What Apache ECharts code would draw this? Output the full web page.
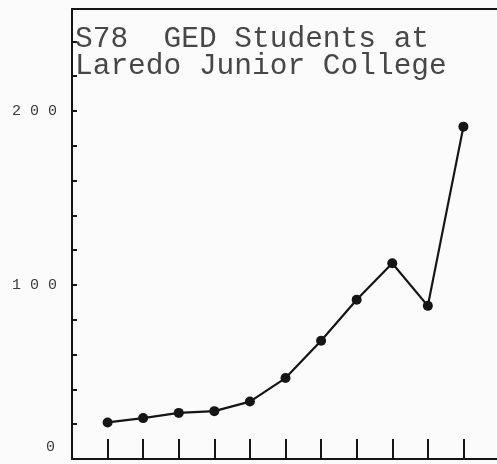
<!DOCTYPE html>
<html>
<head>
<meta charset="utf-8">
<script src="https://cdn.jsdelivr.net/npm/echarts@6/dist/echarts.min.js"></script>
<style>
html,body{margin:0;padding:0;background:#fbfbfb;overflow:hidden;}
#chart{width:505px;height:464px;}
</style>
</head>
<body>
<div id="chart"></div>
<script>
// Data
const titleText = 'S78  GED Students at\nLaredo Junior College';
const periods = ['1','2','3','4','5','6','7','8','9','10','11'];
const students = [21, 23.5, 26.5, 27.5, 33, 46.5, 68, 91.5, 112.5, 88, 191];
const yTickLabels = {0: '0', 100: '1 0 0', 200: '2 0 0'};

const chart = echarts.init(document.getElementById('chart'));
const ink = '#151515';
chart.setOption({
  backgroundColor: '#fbfbfb',
  animation: false,
  title: {
    text: titleText,
    left: 75,
    top: 26,
    padding: 0,
    textStyle: {
      fontFamily: 'Liberation Mono',
      fontSize: 29.5,
      fontWeight: 'normal',
      lineHeight: 27,
      color: '#474747'
    }
  },
  grid: {left: 72, right: 6, top: 9, bottom: 5},
  xAxis: [{
    type: 'value',
    min: 0,
    max: periods.length + 1,
    interval: 1,
    axisLine: {show: true, onZero: false, lineStyle: {color: ink, width: 2}},
    axisTick: {show: true, inside: true, length: 20, lineStyle: {color: ink, width: 2}},
    axisLabel: {show: false},
    splitLine: {show: false}
  }, {
    type: 'value',
    position: 'top',
    min: 0,
    max: periods.length + 1,
    axisLine: {show: true, onZero: false, lineStyle: {color: ink, width: 2}},
    axisTick: {show: false},
    axisLabel: {show: false},
    splitLine: {show: false}
  }],
  yAxis: {
    type: 'value',
    min: 0,
    max: 258.6,
    interval: 20,
    axisLine: {show: true, onZero: false, lineStyle: {color: ink, width: 2}},
    axisTick: {show: true, inside: true, length: 5, lineStyle: {color: ink, width: 2}},
    splitLine: {show: false},
    axisLabel: {
      margin: 15,
      fontFamily: 'Liberation Mono',
      fontSize: 15,
      color: '#3a3a3a',
      formatter: function (v) {
        if (v === 0) return '{z|0}';
        return yTickLabels[v] !== undefined ? yTickLabels[v] : '';
      },
      rich: {
        z: {fontFamily: 'Liberation Mono', fontSize: 15, color: '#3a3a3a', padding: [0, 2, 24, 0]}
      }
    }
  },
  series: [{
    type: 'line',
    xAxisIndex: 0,
    data: students.map((v, i) => [i + 1, v]),
    symbol: 'circle',
    symbolSize: 10,
    lineStyle: {color: ink, width: 2.2},
    itemStyle: {color: ink},
    z: 5
  }]
});
</script>
</body>
</html>
